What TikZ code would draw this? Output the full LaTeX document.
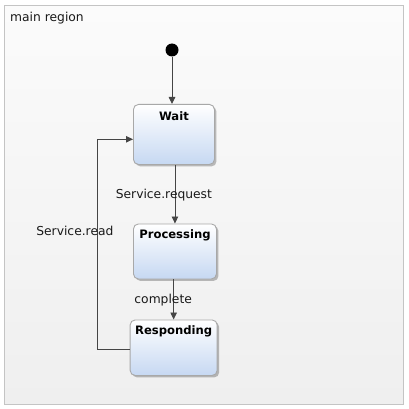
\documentclass[tikz,border=0pt]{standalone}
\usepackage{fontspec}
\setmainfont{DejaVu Sans}
\usetikzlibrary{arrows.meta,shadows,calc}
\definecolor{edgec}{HTML}{454545}
\definecolor{frame}{HTML}{C4C4C4}
\definecolor{bgtop}{HTML}{FBFBFB}
\definecolor{bgbot}{HTML}{EFEFEF}
\definecolor{boxblue}{HTML}{C6D8F2}
\definecolor{boxborder}{HTML}{A8A8A8}
\begin{document}
\begin{tikzpicture}[x=1pt,y=-1pt,
  statebox/.style={draw=boxborder, line width=0.9pt, rounded corners=5pt,
    top color=white, bottom color=boxblue, anchor=north west, inner sep=0pt,
    drop shadow={shadow xshift=2pt, shadow yshift=-2pt, opacity=0.25, fill=black}},
  title/.style={font=\fontsize{11.6}{13}\selectfont\bfseries, inner sep=0pt, text=black},
  lbl/.style={font=\fontsize{12.3}{14}\selectfont, inner sep=0pt, text=black!90},
  arr/.style={draw=edgec, line width=0.9pt, -{Triangle[length=7pt,width=6.5pt]}}]
\useasboundingbox (0,0) rectangle (408,409);
\fill[white] (0,0) rectangle (408,409);
\shade[top color=bgtop, bottom color=bgbot] (4.5,5.5) rectangle (403.5,404.5);
\draw[frame, line width=0.9pt] (4.5,5.5) rectangle (403.5,404.5);
\node[lbl, anchor=west] (region) at (10,18) {main region};

\node[circle, fill=black, minimum size=13pt, inner sep=0pt] (init) at (172,50) {};
\node[statebox, minimum width=81pt, minimum height=60pt] (wait) at (133,104) {};
\node[statebox, minimum width=83pt, minimum height=55pt] (proc) at (133,223.5) {};
\node[statebox, minimum width=87pt, minimum height=55.5pt] (resp) at (129.7,319.5) {};

\node[title] (waitT) at ($(wait.north)+(0,12)$) {Wait};
\node[title] (procT) at ($(proc.north)+(0,12.2)$) {Processing};
\node[title] (respT) at ($(resp.north)+(0,12.2)$) {Responding};

\coordinate (c1) at (97.3,139.3);
\draw[arr] (init) -- (init |- wait.north);
\draw[arr] (proc.north |- wait.south) -- (proc.north);
\draw[arr] (proc.south -| resp.north) -- (resp.north);
\draw[arr] ($(resp.west)+(0,2)$) -| (c1) -- (c1 -| wait.west);

\node[lbl] (l1) at (163.9,195) {Service.request};
\node[lbl] (l2) at (74.9,231) {Service.read};
\node[lbl] (l3) at (163.2,300) {complete};
\end{tikzpicture}
\end{document}
